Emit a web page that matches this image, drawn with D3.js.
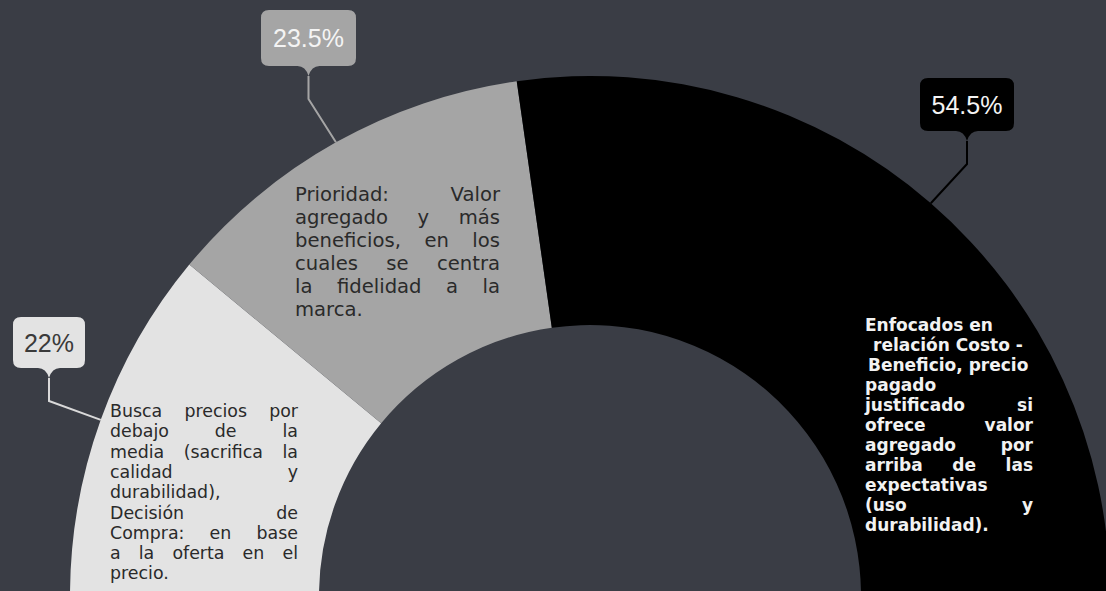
<!DOCTYPE html>
<meta charset="utf-8">
<style>
body { margin: 0; background: #3a3d45; }
svg { display: block; }
.pct { font: 25px "Liberation Sans Narrow", "Liberation Sans", sans-serif; }
.note text { font-family: "DejaVu Sans", sans-serif; white-space: pre; }
</style>
<svg width="1106" height="591"></svg>
<script src="https://d3js.org/d3.v7.min.js"></script>
<script>

// data
var segments = ["Precio bajo", "Valor agregado", "Costo-Beneficio"];
var shares = [22, 23.5, 54.5];
var notes = [
  ["Busca precios por", "debajo de la", "media (sacrifica la", "calidad y",
   "durabilidad),", "Decisión de", "Compra: en base", "a la oferta en el", "precio."],
  ["Prioridad: Valor", "agregado y más", "beneficios, en los", "cuales se centra",
   "la fidelidad a la", "marca."],
  ["Enfocados en", "relación Costo -", "Beneficio, precio", "pagado", "justificado si",
   "ofrece valor", "agregado por", "arriba de las", "expectativas", "(uso y", "durabilidad)."]
];

// layout
var fills = ["#e3e3e3", "#a5a5a5", "#000000"],
    ink = ["#2a2a2a", "#2a2a2a", "#f2f2f2"],
    pctInk = ["#3a3a3a", "#f4f4f4", "#f4f4f4"],
    lineInk = ["#d9d9d9", "#a5a5a5", "#000000"];

var boxes = [
  {x: 13, y: 317, w: 72, h: 51},
  {x: 261, y: 10, w: 95, h: 56},
  {x: 920, y: 78, w: 94, h: 53}
];

var blocks = [
  {x: 110, y: 417, w: 188, lh: 20.3, size: 17.4, weight: 400,
   just: [1, 1, 1, 1, 0, 1, 1, 1, 0], indent: []},
  {x: 295, y: 201, w: 205, lh: 23, size: 19.6, weight: 400,
   just: [1, 1, 1, 1, 1, 0], indent: []},
  {x: 865, y: 331, w: 168, lh: 20, size: 17, weight: 700,
   just: [0, 0, 0, 0, 1, 1, 1, 1, 0, 1, 0], indent: [0, 8, 3]}
];

var svg = d3.select("svg"),
    cx = 590, cy = 596,
    outer = 520, inner = 271;

svg.append("rect")
    .attr("width", 1106)
    .attr("height", 591)
    .attr("fill", "#3a3d45");

var pie = d3.pie()
    .sort(null)
    .startAngle(-Math.PI / 2)
    .endAngle(Math.PI / 2)
    .value(function(d) { return d; });

var arc = d3.arc()
    .innerRadius(inner)
    .outerRadius(outer);

var arcs = pie(shares);

var g = svg.append("g")
    .attr("transform", "translate(" + cx + "," + cy + ")");

g.selectAll("path")
    .data(arcs)
  .enter().append("path")
    .attr("d", arc)
    .attr("fill", function(d, i) { return fills[i]; });

// callouts: box with pointer, elbow line to the middle of the outer arc
arcs.forEach(function(d, i) {
  var b = boxes[i],
      mid = (d.startAngle + d.endAngle) / 2,
      ex = cx + Math.sin(mid) * outer,
      ey = cy - Math.cos(mid) * outer,
      px = b.x + b.w / 2,
      tip = b.y + b.h + 10;

  svg.append("path")
      .attr("d", "M" + px + "," + tip + "V" + (tip + 23) + "L" + ex + "," + ey)
      .attr("fill", "none")
      .attr("stroke", lineInk[i])
      .attr("stroke-width", 2);

  var r = 8;
  svg.append("path")
      .attr("d", "M" + (b.x + r) + "," + b.y +
        "H" + (b.x + b.w - r) + "Q" + (b.x + b.w) + "," + b.y + " " + (b.x + b.w) + "," + (b.y + r) +
        "V" + (b.y + b.h - r) + "Q" + (b.x + b.w) + "," + (b.y + b.h) + " " + (b.x + b.w - r) + "," + (b.y + b.h) +
        "H" + (px + 11) + "Q" + (px + 3) + "," + (b.y + b.h) + " " + px + "," + tip +
        "Q" + (px - 3) + "," + (b.y + b.h) + " " + (px - 11) + "," + (b.y + b.h) +
        "H" + (b.x + r) + "Q" + b.x + "," + (b.y + b.h) + " " + b.x + "," + (b.y + b.h - r) +
        "V" + (b.y + r) + "Q" + b.x + "," + b.y + " " + (b.x + r) + "," + b.y + "Z")
      .attr("fill", fills[i]);

  svg.append("text")
      .attr("class", "pct")
      .attr("x", px)
      .attr("y", b.y + b.h / 2 + 9)
      .attr("text-anchor", "middle")
      .attr("fill", pctInk[i])
      .text(shares[i] + "%");
});

// justified note text inside each slice, squeezed when a line runs long
notes.forEach(function(lines, i) {
  var bl = blocks[i];
  var t = svg.append("g")
      .attr("class", "note")
      .attr("fill", ink[i])
      .style("font-size", bl.size + "px")
      .style("font-weight", bl.weight);

  lines.forEach(function(line, j) {
    var y = bl.y + j * bl.lh,
        x0 = bl.x + (bl.indent[j] || 0),
        room = bl.w - (bl.indent[j] || 0),
        words = line.split(/\s+/);

    if (!bl.just[j] || words.length < 2) {
      var el = t.append("text").attr("x", x0).attr("y", y).text(line);
      if (el.node().getComputedTextLength() > room) {
        el.attr("textLength", room).attr("lengthAdjust", "spacingAndGlyphs");
      }
      return;
    }

    var parts = words.map(function(w) {
      var el = t.append("text").attr("y", y).text(w);
      return {el: el, w: el.node().getComputedTextLength()};
    });
    var gap = (room - d3.sum(parts, function(p) { return p.w; })) / (words.length - 1);

    if (gap < 5) {
      parts.forEach(function(p) { p.el.remove(); });
      t.append("text")
          .attr("x", x0)
          .attr("y", y)
          .attr("textLength", room)
          .attr("lengthAdjust", "spacingAndGlyphs")
          .text(words.join(" "));
      return;
    }

    var x = x0;
    parts.forEach(function(p) {
      p.el.attr("x", x);
      x += p.w + gap;
    });
  });
});

</script>
